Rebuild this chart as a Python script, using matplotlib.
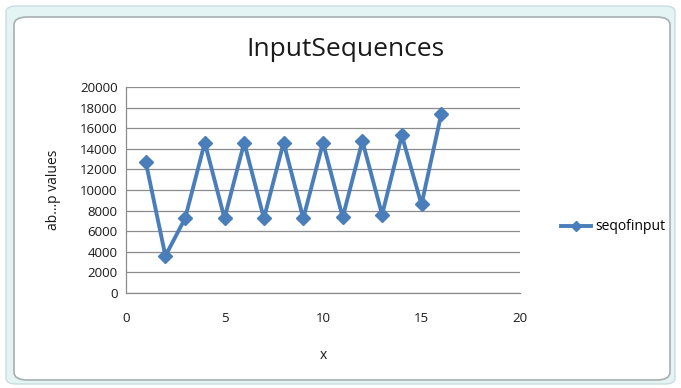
import matplotlib.pyplot as plt
from matplotlib.patches import FancyBboxPatch

# sequence values
x_vals = [1, 2, 3, 4, 5, 6, 7, 8, 9, 10, 11, 12, 13, 14, 15, 16]
seq_values = [12750, 3600, 7250, 14600, 7250, 14600, 7250, 14600, 7250, 14600,
              7350, 14750, 7600, 15300, 8600, 17350]
x_ticks = [0, 5, 10, 15, 20]
y_ticks = list(range(0, 20001, 2000))

plt.rcParams['font.family'] = ['Open Sans', 'DejaVu Sans']

fig = plt.figure(figsize=(6.81, 3.88), dpi=100)
fig.patch.set_facecolor('white')

# outer frame around the chart object
fig.patches.append(FancyBboxPatch((6/681, 4/388), 669/681, 378/388,
                                  boxstyle="round,pad=0,rounding_size=0.015",
                                  transform=fig.transFigure, facecolor='#e4f3f3',
                                  edgecolor='#c8dede', linewidth=1, zorder=-2))
fig.patches.append(FancyBboxPatch((14/681, 8/388), 656/681, 363/388,
                                  boxstyle="round,pad=0,rounding_size=0.02",
                                  transform=fig.transFigure, facecolor='white',
                                  edgecolor='#a8b0b0', linewidth=1.2, zorder=-1))

ax = fig.add_axes([126/681, 95/388, 394/681, 206/388])
ax.set_zorder(1)
ax.set_facecolor('none')
line, = ax.plot(x_vals, seq_values, color='#4a7ebb', linewidth=2.8,
                marker='D', markersize=7, label='seqofinput', zorder=3)

ax.set_xlim(0, 20)
ax.set_ylim(0, 20000)
ax.set_xticks(x_ticks)
ax.set_yticks(y_ticks)
ax.yaxis.grid(True, color='#8c8c8c', linewidth=0.9)
ax.set_axisbelow(True)
ax.tick_params(length=0, labelsize=9.5, colors='#1a1a1a')
ax.tick_params(axis='x', pad=14)
ax.tick_params(axis='y', pad=6)
for side in ['top', 'right']:
    ax.spines[side].set_visible(False)
for side in ['left', 'bottom']:
    ax.spines[side].set_color('#8c8c8c')
    ax.spines[side].set_linewidth(0.9)

ax.set_xlabel('x', fontsize=10, labelpad=16, color='#1a1a1a')
ax.set_ylabel('ab...p values', fontsize=10, labelpad=14, color='#1a1a1a')

fig.text(345/681, 1 - 50/388, 'InputSequences', ha='center', va='center',
         fontsize=19, color='#1a1a1a')

leg = fig.legend(handles=[line], loc='center left', bbox_to_anchor=(548/681, 1 - 227/388),
                 frameon=False, fontsize=10, handlelength=2.2, handletextpad=0.3,
                 markerscale=0.8)
leg.set_zorder(2)

fig.savefig('out.png', dpi=100)
